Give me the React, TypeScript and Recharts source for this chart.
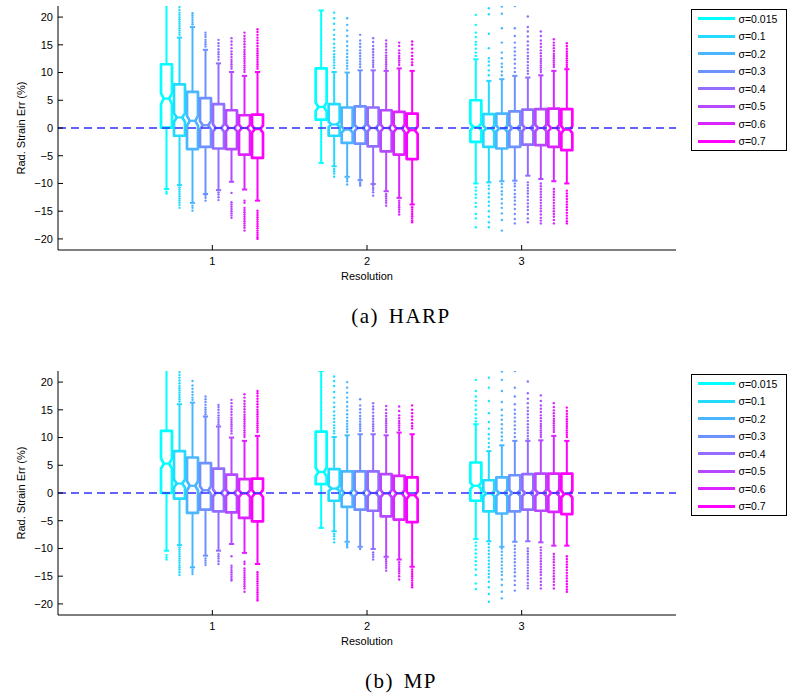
import React from 'react';
import { ComposedChart, Bar, XAxis, YAxis, ReferenceLine, Legend } from 'recharts';

// ---------- categories / labels ----------
const resolutions = ['1', '2', '3'];
const sigmaLabels = ['σ=0.015', 'σ=0.1', 'σ=0.2', 'σ=0.3', 'σ=0.4', 'σ=0.5', 'σ=0.6', 'σ=0.7'];
const sigmaColors = ['#00FFFF', '#24DBFF', '#49B6FF', '#6D92FF', '#926DFF', '#B649FF', '#DB24FF', '#FF00FF'];
const yTicks = [-20, -15, -10, -5, 0, 5, 10, 15, 20];

// ---------- HARP (rows: sigma, cols: resolution 1..3) ----------
const harpLow = [
  [-11.0, -6.3, -10.0], [-10.3, -6.9, -9.8], [-13.5, -8.8, -9.6], [-11.9, -9.4, -9.5],
  [-11.2, -10.1, -8.6], [-9.7, -11.4, -9.2], [-11.1, -12.6, -9.6], [-13.1, -13.8, -10.0],
];
const harpQ1 = [
  [0.05, 1.5, -2.5], [-1.4, -1.4, -3.4], [-3.8, -2.7, -3.7], [-3.4, -2.8, -3.4],
  [-3.7, -3.3, -3.0], [-3.8, -4.2, -3.1], [-4.8, -4.8, -3.4], [-5.4, -5.6, -4.0],
];
const harpMed = [
  [5.3, 3.8, 0.2], [1.9, 0.65, -0.1], [1.3, -0.3, -0.1], [0.5, 0, 0],
  [0, 0, 0], [0, 0, 0], [0, -0.1, 0], [-0.2, -0.4, -0.3],
];
const harpQ3 = [
  [11.5, 10.75, 5.0], [7.85, 4.3, 2.5], [6.5, 3.7, 2.6], [5.4, 3.9, 3.0],
  [4.3, 3.7, 3.3], [3.2, 3.2, 3.4], [2.3, 2.9, 3.5], [2.4, 2.6, 3.4],
];
const harpHigh = [
  [23, 21.2, 12.4], [16.3, 10.1, 8.5], [18.2, 10.0, 8.8], [14.1, 10.4, 9.4],
  [11.65, 10.4, 9.1], [10.1, 10.3, 9.5], [9.4, 10.75, 10.3], [10.1, 10.3, 10.6],
];
const harpOutHigh = [
  [[], [], [13.0, 13.6, 14.3, 15.0, 15.5, 16.4, 17.2, 18.6, 20.4]],
  [[16.8, 17.2, 17.6, 18.0, 18.4, 18.8, 19.2, 19.6, 20.0, 20.4, 20.8, 21.3, 21.8],
   [10.8, 11.3, 11.8, 12.3, 12.8, 13.3, 13.9, 14.5, 15.2, 16.0, 16.8, 17.7, 18.8, 19.8, 20.8],
   [9.5, 10.4, 11.3, 12.0, 12.6, 14.4, 17.0, 20.5, 21.6]],
  [[18.7, 19.1, 19.5, 19.9, 20.3, 20.7],
   [10.7, 11.2, 11.7, 12.2, 12.8, 13.4, 14.0, 14.8, 15.6, 16.6, 17.6, 18.6, 19.8],
   [9.5, 10.2, 11.0, 11.6, 12.6, 13.6, 15.4, 18.0, 20.6, 21.9]],
  [[14.7, 15.1, 15.5, 15.9, 16.4, 16.8, 17.2],
   [11.0, 11.5, 12.0, 12.5, 13.0, 13.5, 14.0, 14.6, 15.2, 15.8, 16.8],
   [10.1, 10.8, 11.6, 12.4, 13.1, 13.8, 14.5, 15.4, 16.6, 18.0, 22.0]],
  [[12.3, 12.8, 13.3, 13.7, 14.2, 14.8, 15.3, 15.9],
   [11.0, 11.4, 11.8, 12.2, 12.7, 13.2, 13.7, 14.2, 14.8, 15.5, 16.2],
   [9.8, 10.3, 10.8, 11.3, 11.9, 12.5, 13.0, 13.6, 14.2, 14.9, 15.6, 16.5, 17.4, 18.2, 20.1]],
  [[10.7, 11.1, 11.5, 11.9, 12.3, 12.8, 13.3, 13.8, 14.4, 15.0, 15.6, 16.2],
   [10.7, 11.1, 11.5, 11.9, 12.3, 12.7, 13.1, 13.6, 14.1, 14.7, 15.2, 15.8],
   [10.1, 10.5, 10.9, 11.3, 11.7, 12.1, 12.5, 13.0, 13.5, 14.0, 14.6, 15.2, 15.8, 16.6, 17.4]],
  [[10.1, 10.5, 10.9, 11.3, 11.7, 12.1, 12.5, 12.9, 13.3, 13.7, 14.1, 14.6, 15.1, 15.6, 16.1, 16.6, 17.2],
   [11.35, 11.8, 12.2, 12.6, 13.0, 13.5, 14.0, 14.8, 15.4],
   [11.0, 11.4, 11.8, 12.2, 12.6, 13.0, 13.4, 13.9, 14.4, 14.9, 15.4, 16.0]],
  [[10.7, 11.1, 11.5, 11.9, 12.3, 12.7, 13.1, 13.5, 13.9, 14.3, 14.8, 15.3, 15.8, 16.3, 16.8, 17.3, 17.8],
   [11.35, 11.8, 12.4, 13.0, 13.6, 14.3, 15.0, 15.6],
   [11.0, 11.4, 11.8, 12.2, 12.6, 13.0, 13.4, 13.8, 14.3, 14.8, 15.3]],
];
const harpOutLow = [
  [[-11.5, -11.8], [], [-10.7, -11.3, -12.0, -12.6, -13.5, -14.2, -15.5, -16.3, -17.9]],
  [[-10.7, -11.1, -11.5, -11.9, -12.3, -12.7, -13.1, -13.5, -13.9, -14.4],
   [-7.4, -7.8, -8.2, -8.8],
   [-10.4, -11.0, -11.8, -12.5, -13.3, -14.0, -15.0, -16.0, -17.0, -17.9]],
  [[-14.0, -14.4, -14.9], [-9.2, -9.6, -10.2],
   [-10.1, -10.7, -11.4, -12.0, -12.8, -13.6, -14.4, -15.4, -16.6, -18.5]],
  [[-12.2, -12.6, -13.1], [-9.8, -10.1, -10.4],
   [-10.0, -10.5, -11.2, -11.9, -12.5, -13.1, -13.8, -14.6, -15.5, -16.4, -17.2]],
  [[-11.6, -12.0, -12.5, -13.0], [-10.4, -10.8, -11.2, -11.6, -12.2],
   [-9.8, -10.3, -10.8, -11.3, -11.8, -12.4, -13.0, -13.6, -14.2, -14.8, -15.5, -16.3, -17.0]],
  [[-11.7, -13.4, -13.8, -14.2, -14.6, -15.0, -15.4, -15.8, -16.2],
   [-11.9, -12.3, -12.7, -13.1, -13.5, -14.0],
   [-10.0, -10.5, -11.0, -11.5, -12.0, -12.5, -13.0, -13.5, -14.0, -14.5, -15.0, -15.6, -16.2, -16.7, -17.2]],
  [[-13.1, -13.5, -14.4, -14.8, -15.2, -15.6, -16.0, -16.4, -16.8, -17.2, -17.6, -18.0, -18.5],
   [-13.1, -13.5, -13.9, -14.3, -14.7, -15.1, -15.6],
   [-11.0, -11.5, -12.0, -12.5, -13.0, -13.5, -14.0, -14.5, -15.0, -15.5, -16.0, -16.6, -17.2]],
  [[-14.9, -15.3, -15.7, -16.1, -16.5, -16.9, -17.3, -17.7, -18.1, -18.5, -18.9, -19.3, -19.7, -20.0],
   [-14.3, -14.7, -15.1, -15.5, -15.9, -16.3, -16.7, -17.0],
   [-11.3, -11.8, -12.3, -12.8, -13.3, -13.8, -14.3, -14.8, -15.3, -15.8, -16.3, -16.8, -17.2]],
];

// ---------- MP ----------
const mpLow = [
  [-10.4, -6.3, -8.3], [-9.4, -6.9, -8.7], [-13.4, -8.8, -9.7], [-11.3, -9.7, -8.8],
  [-10.4, -10.1, -8.7], [-9.2, -11.5, -8.9], [-10.8, -12.0, -9.5], [-12.8, -13.3, -9.5],
];
const mpQ1 = [
  [0, 1.6, -1.4], [-1.0, -1.4, -3.3], [-3.6, -2.5, -3.7], [-3.0, -3.0, -3.3],
  [-3.3, -3.2, -3.0], [-3.5, -4.2, -3.2], [-4.5, -4.8, -3.4], [-5.1, -5.25, -3.8],
];
const mpMed = [
  [5.3, 3.8, 1.3], [1.7, 0.8, -0.1], [1.3, 0, 0], [0.5, 0, 0],
  [0, 0, 0], [0, -0.1, 0], [-0.1, -0.1, 0], [-0.1, -0.4, -0.2],
];
const mpQ3 = [
  [11.2, 11.05, 5.5], [7.55, 4.3, 2.3], [6.4, 3.9, 2.8], [5.4, 3.9, 3.2],
  [4.4, 3.9, 3.4], [3.3, 3.4, 3.5], [2.5, 3.1, 3.5], [2.6, 2.8, 3.5],
];
const mpHigh = [
  [23, 22.0, 12.4], [16.0, 10.1, 7.55], [16.3, 10.4, 8.6], [13.8, 10.6, 9.4],
  [12.0, 10.6, 9.4], [10.0, 10.4, 9.5], [9.4, 10.9, 10.3], [10.3, 10.6, 9.4],
];
const mpOutHigh = [
  [[], [], [12.9, 13.5, 14.2, 15.0, 15.8, 16.6, 17.4, 18.4, 20.4]],
  [[16.5, 16.9, 17.3, 17.7, 18.1, 18.5, 18.9, 19.3, 19.8, 20.3, 20.8, 21.3, 21.8],
   [10.75, 11.2, 11.7, 12.2, 12.8, 13.4, 14.0, 14.7, 15.5, 16.3, 17.2, 18.2, 19.3, 20.2, 21.0],
   [8.3, 9.0, 9.8, 10.6, 11.6, 12.8, 14.4, 16.6, 19.0, 20.8]],
  [[16.8, 17.2, 17.7, 18.2, 18.8, 19.4, 20.2],
   [11.0, 11.5, 12.0, 12.5, 13.0, 13.6, 14.2, 14.9, 15.6, 16.4, 17.2, 18.1, 19.0, 20.0],
   [9.5, 10.2, 10.9, 11.6, 12.4, 13.2, 14.0, 15.0, 16.4, 18.4, 20.4, 21.9]],
  [[14.2, 14.6, 15.0, 15.4, 15.9, 16.4, 16.9, 17.4],
   [11.2, 11.6, 12.0, 12.4, 12.9, 13.4, 13.9, 14.5, 15.1, 15.8, 16.9],
   [10.1, 10.8, 11.5, 12.2, 12.9, 13.6, 14.3, 15.0, 16.0, 17.4, 19.0, 22.0]],
  [[12.4, 12.8, 13.2, 13.6, 14.0, 14.5, 15.0, 15.5, 15.9],
   [11.2, 11.6, 12.0, 12.4, 12.9, 13.4, 13.9, 14.5, 15.1, 15.6, 16.2],
   [9.8, 10.3, 10.8, 11.3, 11.8, 12.4, 13.0, 13.6, 14.2, 14.8, 15.4, 16.2, 17.0, 18.0, 20.1]],
  [[10.75, 11.2, 11.6, 12.0, 12.4, 12.8, 13.2, 13.6, 14.1, 14.6, 15.1, 15.6, 16.2, 16.8],
   [11.0, 11.4, 11.8, 12.2, 12.6, 13.0, 13.4, 13.9, 14.4, 15.0, 15.7],
   [10.1, 10.5, 10.9, 11.3, 11.7, 12.1, 12.5, 13.0, 13.5, 14.0, 14.6, 15.2, 15.8, 16.6, 17.6]],
  [[10.1, 10.5, 10.9, 11.3, 11.7, 12.1, 12.5, 12.9, 13.3, 13.7, 14.1, 14.6, 15.1, 15.6, 16.1, 16.6, 17.2, 17.8],
   [11.35, 11.8, 12.2, 12.6, 13.0, 13.5, 14.0, 14.8, 15.6],
   [11.0, 11.4, 11.8, 12.2, 12.6, 13.0, 13.4, 13.9, 14.4, 14.9, 15.5, 16.2]],
  [[11.0, 11.4, 11.8, 12.2, 12.6, 13.0, 13.4, 13.8, 14.2, 14.6, 15.0, 15.5, 16.0, 16.5, 17.0, 17.5, 18.0, 18.4],
   [11.65, 12.1, 12.6, 13.2, 13.8, 14.4, 15.0, 15.8],
   [10.1, 10.5, 10.9, 11.3, 11.7, 12.1, 12.5, 12.9, 13.3, 13.8, 14.3, 14.8, 15.4]],
];
const mpOutLow = [
  [[-11.2, -11.6, -12.0], [],
   [-8.9, -9.5, -10.2, -10.9, -11.6, -12.3, -13.0, -13.8, -14.8, -16.3, -17.3]],
  [[-9.8, -10.2, -10.6, -11.0, -11.4, -11.8, -12.2, -12.6, -13.0, -13.4, -13.8, -14.3, -14.8],
   [-7.4, -7.8, -8.3, -8.9],
   [-9.2, -9.8, -10.4, -11.0, -11.6, -12.2, -12.8, -13.4, -14.0, -14.6, -15.2, -16.0, -17.0, -18.2, -19.6]],
  [[-13.8, -14.2, -14.6], [-9.2, -9.5, -9.8],
   [-10.0, -10.6, -11.2, -11.8, -12.4, -13.0, -13.6, -14.2, -14.8, -15.6, -16.6, -17.8, -19.0]],
  [[-11.8, -12.2, -12.6, -13.0], [-10.1],
   [-9.5, -10.1, -10.7, -11.3, -11.9, -12.5, -13.1, -13.7, -14.3, -15.0, -15.8, -16.6, -17.6]],
  [[-11.0, -11.4, -11.8, -12.3, -12.8], [-10.7, -11.1, -11.5, -12.0],
   [-10.0, -10.5, -11.0, -11.5, -12.0, -12.5, -13.0, -13.5, -14.0, -14.5, -15.0, -15.6, -16.2, -16.7, -17.2]],
  [[-11.4, -13.1, -13.5, -13.9, -14.3, -14.7, -15.1, -15.5, -15.8],
   [-11.9, -12.3, -12.7, -13.1, -13.5, -14.0],
   [-9.8, -10.3, -10.8, -11.3, -11.8, -12.3, -12.8, -13.3, -13.8, -14.3, -14.8, -15.4, -16.0, -16.6, -17.2]],
  [[-12.4, -12.8, -13.6, -14.0, -14.4, -14.8, -15.2, -15.6, -16.0, -16.4, -16.8, -17.2, -17.8],
   [-12.5, -12.9, -13.3, -13.7, -14.1, -14.5, -15.0, -15.6],
   [-11.0, -11.5, -12.0, -12.5, -13.0, -13.5, -14.0, -14.5, -15.0, -15.5, -16.0, -16.6, -17.2]],
  [[-14.3, -14.7, -15.1, -15.5, -15.9, -16.3, -16.7, -17.1, -17.5, -17.9, -18.3, -18.7, -19.1, -19.4],
   [-13.8, -14.2, -14.6, -15.0, -15.4, -15.8, -16.2, -16.6, -17.0],
   [-11.4, -11.9, -12.4, -12.9, -13.4, -13.9, -14.4, -14.9, -15.4, -15.9, -16.4, -16.9, -17.4, -17.8]],
];

// ---------- helpers ----------
type PanelData = {
  low: number[][]; q1: number[][]; med: number[][]; q3: number[][]; high: number[][];
  outHigh: number[][][]; outLow: number[][][];
};

const harpPanel: PanelData = {
  low: harpLow, q1: harpQ1, med: harpMed, q3: harpQ3, high: harpHigh, outHigh: harpOutHigh, outLow: harpOutLow,
};
const mpPanel: PanelData = {
  low: mpLow, q1: mpQ1, med: mpMed, q3: mpQ3, high: mpHigh, outHigh: mpOutHigh, outLow: mpOutLow,
};

function buildRows(p: PanelData) {
  return resolutions.map((res, r) => {
    const row: any = { res };
    sigmaLabels.forEach((_, i) => {
      row['s' + i] = [p.low[i][r], p.high[i][r]];
    });
    return row;
  });
}

const NOTCH = 0.085;
const FONT = '"Liberation Sans", Arial, Helvetica, sans-serif';

function makeBoxShape(p: PanelData, i: number, color: string) {
  return (props: any) => {
    const { x, y, width, height, payload } = props;
    const r = resolutions.indexOf(payload.res);
    if (r < 0 || !isFinite(y) || !isFinite(height)) return <g />;
    const lo = p.low[i][r];
    const hi = p.high[i][r];
    const top = y;
    const bottom = y + height;
    const py = (v: number) => top + ((bottom - top) * (hi - v)) / (hi - lo);
    const cx = x + width / 2;
    const hw = width / 2;
    const q1 = p.q1[i][r];
    const q3 = p.q3[i][r];
    const med = p.med[i][r];
    const n = NOTCH * (q3 - q1);
    const pinch = hw * 0.5;
    const pts = [
      [cx - hw, py(q3)], [cx + hw, py(q3)], [cx + hw, py(med + n)], [cx + pinch, py(med)],
      [cx + hw, py(med - n)], [cx + hw, py(q1)], [cx - hw, py(q1)], [cx - hw, py(med - n)],
      [cx - pinch, py(med)], [cx - hw, py(med + n)],
    ];
    const capW = 2.6;
    return (
      <g>
        {p.outHigh[i][r].map((v, k) => (
          <circle key={'h' + k} cx={cx} cy={py(v)} r={1.2} fill={color} />
        ))}
        {p.outLow[i][r].map((v, k) => (
          <circle key={'l' + k} cx={cx} cy={py(v)} r={1.2} fill={color} />
        ))}
        <line x1={cx} x2={cx} y1={py(hi)} y2={py(q3)} stroke={color} strokeWidth={2} />
        <line x1={cx} x2={cx} y1={py(q1)} y2={py(lo)} stroke={color} strokeWidth={2} />
        <line x1={cx - capW} x2={cx + capW} y1={py(hi)} y2={py(hi)} stroke={color} strokeWidth={2} />
        <line x1={cx - capW} x2={cx + capW} y1={py(lo)} y2={py(lo)} stroke={color} strokeWidth={2} />
        <polygon
          points={pts.map((pt) => pt.join(',')).join(' ')}
          fill="none"
          stroke={color}
          strokeWidth={2.7}
          strokeLinejoin="round"
        />
        <line x1={cx - pinch} x2={cx + pinch} y1={py(med)} y2={py(med)} stroke={color} strokeWidth={2.2} />
      </g>
    );
  };
}

const fmtY = (v: number) => (v < 0 ? '\u2212' + Math.abs(v) : String(v));

const LegendBox = () => (
  <div style={{ width: 111, height: 142, paddingLeft: 15, boxSizing: 'border-box' }}>
    <div
      style={{
        width: 96,
        height: 142,
        border: '1px solid #000',
        boxSizing: 'border-box',
        background: '#fff',
        fontFamily: FONT,
      }}
    >
      {sigmaLabels.map((l, i) => (
        <div key={l} style={{ height: 17.5, display: 'flex', alignItems: 'center' }}>
          <div style={{ marginLeft: 6, width: 37, height: 2.6, background: sigmaColors[i] }} />
          <span style={{ marginLeft: 3.5, fontSize: 10.5, lineHeight: '12px', color: '#000' }}>{l}</span>
        </div>
      ))}
    </div>
  </div>
);

const YLabel = (props: any) => {
  const vb = props.viewBox || {};
  const cx = vb.x + 20.5;
  const cy = vb.y + vb.height / 2;
  return (
    <text
      x={cx}
      y={cy}
      transform={`rotate(-90, ${cx}, ${cy})`}
      textAnchor="middle"
      dominantBaseline="central"
      fontSize={11}
      fontFamily={FONT}
      fill="#000"
    >
      Rad. Strain Err (%)
    </text>
  );
};

const XLabel = (props: any) => {
  const vb = props.viewBox || {};
  return (
    <text
      x={vb.x + vb.width / 2}
      y={vb.y + 30}
      textAnchor="middle"
      fontSize={11}
      fontFamily={FONT}
      fill="#000"
    >
      Resolution
    </text>
  );
};

function Panel({ p }: { p: PanelData }) {
  const rows = buildRows(p);
  const tickStyle = { fill: '#000', fontSize: 11, fontFamily: FONT };
  return (
    <ComposedChart
      width={787}
      height={290}
      data={rows}
      margin={{ top: 6, right: 0, bottom: 0, left: 0 }}
      barSize={11}
      barGap={2}
      style={{ fontFamily: FONT }}
    >
      <XAxis
        dataKey="res"
        type="category"
        padding={{ left: 77, right: 77 }}
        height={40}
        tickSize={-5}
        tickMargin={12}
        tick={tickStyle}
        axisLine={{ stroke: '#000' }}
        tickLine={{ stroke: '#000' }}
        label={<XLabel />}
      />
      <XAxis
        xAxisId="top"
        orientation="top"
        dataKey="res"
        type="category"
        padding={{ left: 77, right: 77 }}
        height={0}
        tickSize={-5}
        tickFormatter={() => ''}
        axisLine={{ stroke: '#000' }}
        tickLine={{ stroke: '#000' }}
      />
      <YAxis
        type="number"
        domain={[-22, 22]}
        ticks={yTicks}
        allowDataOverflow
        width={58}
        tickSize={-5}
        tickMargin={10}
        tick={tickStyle}
        tickFormatter={fmtY}
        axisLine={{ stroke: '#000' }}
        tickLine={{ stroke: '#000' }}
        label={<YLabel />}
      />
      <YAxis
        yAxisId="right"
        orientation="right"
        type="number"
        domain={[-22, 22]}
        ticks={yTicks}
        allowDataOverflow
        width={0}
        tickSize={-5}
        tickFormatter={() => ''}
        axisLine={{ stroke: '#000' }}
        tickLine={{ stroke: '#000' }}
      />
      <Legend
        layout="vertical"
        align="right"
        verticalAlign="top"
        content={() => <LegendBox />}
        wrapperStyle={{ top: 9, right: 0 }}
      />
      {sigmaLabels.map((l, i) => (
        <Bar
          key={l}
          dataKey={'s' + i}
          name={l}
          fill={sigmaColors[i]}
          isAnimationActive={false}
          shape={makeBoxShape(p, i, sigmaColors[i])}
        />
      ))}
      <ReferenceLine y={0} stroke="#3030ff" strokeDasharray="8 5" strokeWidth={1.6} />
    </ComposedChart>
  );
}

const captionStyle: React.CSSProperties = {
  position: 'absolute',
  left: 301,
  width: 200,
  textAlign: 'center',
  fontFamily: '"Liberation Serif", "Times New Roman", serif',
  fontSize: 21,
  lineHeight: '20px',
  letterSpacing: 1.5,
  wordSpacing: 3,
  color: '#000',
  whiteSpace: 'nowrap',
};

export default function App() {
  return (
    <div style={{ position: 'absolute', left: 0, top: 0, width: 787, height: 698, background: '#fff' }}>
      <div style={{ position: 'absolute', left: 0, top: 0 }}>
        <Panel p={harpPanel} />
      </div>
      <div style={{ ...captionStyle, top: 306 }}>(a) HARP</div>
      <div style={{ position: 'absolute', left: 0, top: 365 }}>
        <Panel p={mpPanel} />
      </div>
      <div style={{ ...captionStyle, top: 671 }}>(b) MP</div>
    </div>
  );
}
